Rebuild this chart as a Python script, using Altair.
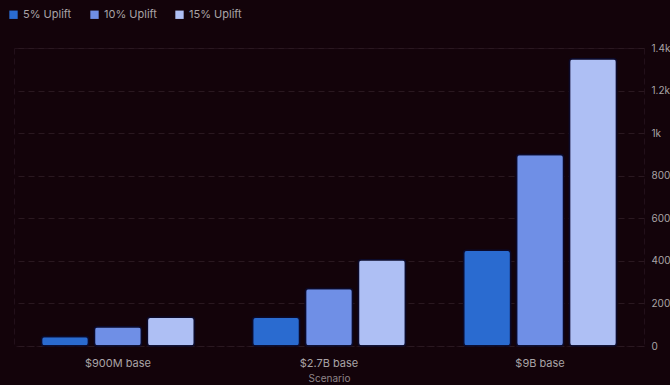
import altair as alt
import pandas as pd

scenarios = ["$900M base", "$2.7B base", "$9B base"]
series = ["5% Uplift", "10% Uplift", "15% Uplift"]
values_5 = [45, 135, 450]
values_10 = [90, 270, 900]
values_15 = [135, 405, 1350]
colors = ["#2a6bd0", "#6f8fe6", "#aebff4"]

rows = []
for i, s in enumerate(scenarios):
    rows.append({"Scenario": s, "Series": series[0], "Value": values_5[i]})
    rows.append({"Scenario": s, "Series": series[1], "Value": values_10[i]})
    rows.append({"Scenario": s, "Series": series[2], "Value": values_15[i]})
df = pd.DataFrame(rows)

chart = alt.Chart(df).mark_bar(
    cornerRadius=3, stroke="#0b0a2a", strokeWidth=1.5
).encode(
    x=alt.X("Scenario:N", sort=scenarios, title="Scenario",
            scale=alt.Scale(paddingInner=0.275, paddingOuter=0.13),
            axis=alt.Axis(labelAngle=0, domain=False, ticks=False, grid=False,
                          labelColor="#a9a3a6", titleColor="#8f8589",
                          labelFontSize=11, titleFontSize=10, titleFontWeight="normal",
                          labelPadding=11, titlePadding=5)),
    xOffset=alt.XOffset("Series:N", sort=series,
                        scale=alt.Scale(paddingInner=0.11)),
    y=alt.Y("Value:Q", title=None,
            scale=alt.Scale(domain=[0, 1400]),
            axis=alt.Axis(orient="right", values=[0, 200, 400, 600, 800, 1000, 1200, 1400],
                          labelExpr="datum.value >= 1000 ? format(datum.value/1000, '.1~f') + 'k' : datum.value",
                          domain=False, ticks=False, gridColor="#2a1820", gridDash=[6, 4],
                          labelColor="#a9a3a6", labelFontSize=10, labelPadding=7)),
    color=alt.Color("Series:N", sort=series,
                    scale=alt.Scale(domain=series, range=colors),
                    legend=alt.Legend(orient="none", legendX=-6, legendY=-39,
                                      direction="horizontal", title=None,
                                      symbolType="square", symbolSize=70,
                                      symbolStrokeWidth=0,
                                      labelColor="#a9a3a6", labelFontSize=11,
                                      columnPadding=17)),
).properties(
    width=630, height=298,
    autosize=alt.AutoSizeParams(type="none"),
    padding={"left": 14, "top": 48, "right": 26, "bottom": 39},
    background="#13030a",
).configure(
    font="Inter"
).configure_view(
    stroke="#22101a", strokeDash=[6, 4]
)

chart.save("out.html", embed_options={"renderer": "svg", "actions": False})
